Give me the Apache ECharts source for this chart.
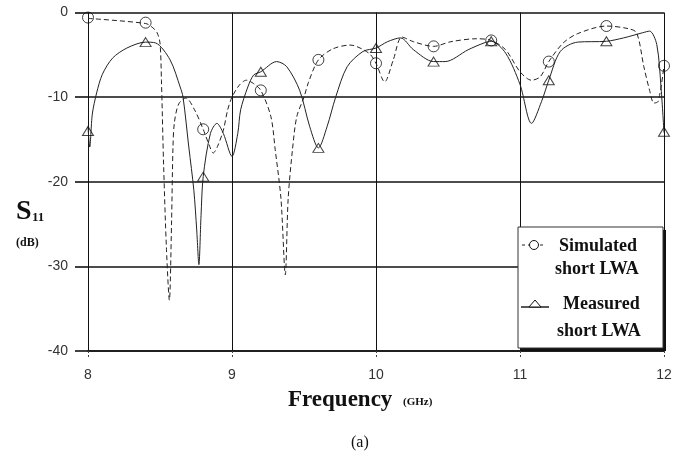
<!DOCTYPE html>
<html><head><meta charset="utf-8">
<script src="https://cdn.jsdelivr.net/npm/echarts@6/dist/echarts.min.js"></script>
<style>html,body{margin:0;padding:0;background:#fff}#c{width:679px;height:453px}</style>
</head><body><div id="c"></div>
<script>
// Frequency ticks (GHz) and S11 ticks (dB)
const xTicks = [8, 9, 10, 11, 12];
const yTicks = [0, -10, -20, -30, -40];

// Simulated short LWA curve: [GHz, dB]
const simFreq = [8.0, 8.4, 8.45, 8.48, 8.5, 8.51, 8.525, 8.545, 8.565, 8.58, 8.59, 8.6, 8.63, 8.68, 8.74, 8.8, 8.84, 8.87, 8.9, 8.94, 8.97, 9.0, 9.05, 9.1, 9.15, 9.2, 9.27, 9.3, 9.34, 9.37, 9.39, 9.42, 9.45, 9.5, 9.53, 9.6, 9.7, 9.82, 9.95, 10.0, 10.06, 10.12, 10.18, 10.26, 10.4, 10.52, 10.7, 10.8, 10.9, 11.0, 11.08, 11.14, 11.2, 11.3, 11.4, 11.6, 11.75, 11.81, 11.86, 11.9, 11.93, 11.96, 12.0];
const simDb   = [-0.7, -1.3, -1.8, -2.4, -3.6, -8, -18, -28, -34, -25, -16, -13, -10.8, -10.1, -11.5, -13.8, -15.6, -16.6, -15.8, -13.9, -11.5, -10.0, -8.6, -8.0, -8.4, -9.2, -12.3, -16.2, -22, -31, -22, -16.2, -12.3, -10.0, -8.3, -5.6, -4.3, -3.85, -4.8, -6.0, -8.2, -5.6, -2.9, -3.45, -4.0, -3.45, -3.1, -3.3, -4.4, -7.0, -8.0, -7.6, -5.8, -3.6, -2.5, -1.6, -1.9, -2.4, -6.4, -9.2, -10.7, -10.5, -6.3];

// Measured short LWA curve: [GHz, dB]
const measFreq = [8.0, 8.012, 8.03, 8.06, 8.1, 8.17, 8.27, 8.4, 8.47, 8.57, 8.64, 8.66, 8.7, 8.735, 8.755, 8.77, 8.785, 8.8, 8.85, 8.895, 8.94, 9.0, 9.04, 9.06, 9.11, 9.15, 9.2, 9.31, 9.38, 9.47, 9.54, 9.6, 9.66, 9.72, 9.8, 9.91, 10.0, 10.08, 10.17, 10.26, 10.4, 10.48, 10.64, 10.75, 10.8, 10.9, 11.0, 11.08, 11.15, 11.2, 11.28, 11.4, 11.6, 11.72, 11.85, 11.9, 11.95, 11.98, 12.0];
const measDb   = [-13.5, -15.9, -12, -9.5, -7.3, -5.4, -4.2, -3.5, -3.6, -5.6, -8.8, -10, -15.9, -21, -25.7, -29.8, -24, -19.4, -14.3, -13.1, -14.3, -17.0, -14.3, -11.5, -8.8, -7.4, -7.0, -5.8, -6.4, -9.2, -13.5, -16.0, -13.5, -10, -6.4, -4.6, -4.2, -3.45, -3.0, -4.4, -5.8, -5.8, -4.4, -3.6, -3.4, -4.8, -8.5, -13.1, -10.5, -8.0, -4.6, -3.5, -3.4, -3.0, -2.4, -2.2, -3.8, -9, -14.2];

// Marker points (every 0.4 GHz)
const markFreq = [8.0, 8.4, 8.8, 9.2, 9.6, 10.0, 10.4, 10.8, 11.2, 11.6, 12.0];
const simMarkDb  = [-0.6, -1.2, -13.8, -9.2, -5.6, -6.0, -4.0, -3.3, -5.8, -1.6, -6.3];
const measMarkDb = [-14.0, -3.5, -19.4, -7.0, -16.0, -4.2, -5.8, -3.4, -8.0, -3.4, -14.1];

const zip = (a, b) => a.map((v, i) => [v, b[i]]);

const chart = echarts.init(document.getElementById('c'));
const lab = {color: '#333', fontFamily: 'Liberation Sans, Arial, sans-serif', fontSize: 14};
const serif = '"Liberation Serif", "Times New Roman", serif';
chart.setOption({
  animation: false,
  grid: {left: 88, right: 15, top: 12.5, bottom: 102},
  xAxis: {
    type: 'value', min: xTicks[0], max: xTicks[xTicks.length - 1], interval: 1,
    axisLine: {onZero: false, lineStyle: {color: '#111', width: 1.6}},
    axisTick: {show: true, length: 7, lineStyle: {color: '#444', type: [2, 2]}},
    axisLabel: Object.assign({margin: 17}, lab),
    splitLine: {show: true, lineStyle: {color: '#111', width: 1}}
  },
  yAxis: {
    type: 'value', min: yTicks[yTicks.length - 1], max: yTicks[0], interval: 10,
    axisLine: {show: true, lineStyle: {color: '#111', width: 1}},
    axisTick: {show: true, length: 13, lineStyle: {color: '#111', width: 1.6}},
    axisLabel: Object.assign({margin: 20}, lab),
    splitLine: {show: true, lineStyle: {color: '#111', width: 1.6}}
  },
  series: [
    {type: 'line', data: zip(simFreq, simDb), smooth: 0.3, showSymbol: false,
     lineStyle: {color: '#222', width: 1, type: [5, 3]}, z: 3},
    {type: 'line', data: zip(measFreq, measDb), smooth: 0.3, showSymbol: false,
     lineStyle: {color: '#222', width: 1}, z: 3},
    {type: 'scatter', data: zip(markFreq, simMarkDb), symbol: 'circle', symbolSize: 11,
     itemStyle: {color: 'rgba(255,255,255,0)', borderColor: '#111', borderWidth: 1}, z: 4},
    {type: 'scatter', data: zip(markFreq, measMarkDb), symbol: 'triangle', symbolSize: [11, 9],
     itemStyle: {color: 'rgba(255,255,255,0)', borderColor: '#111', borderWidth: 1}, z: 4}
  ],
  graphic: [
    {type: 'text', style: {x: 16, y: 212, verticalAlign: 'middle', text: 'S', font: 'bold 28px ' + serif, fill: '#111'}},
    {type: 'text', style: {x: 32, y: 218, verticalAlign: 'middle', text: '11', font: 'bold 13px ' + serif, fill: '#111'}},
    {type: 'text', style: {x: 16, y: 243, verticalAlign: 'middle', text: '(dB)', font: 'bold 12px ' + serif, fill: '#111'}},
    {type: 'text', style: {x: 288, y: 400, verticalAlign: 'middle', text: 'Frequency', font: 'bold 23px ' + serif, fill: '#111'}},
    {type: 'text', style: {x: 403, y: 402, verticalAlign: 'middle', text: '(GHz)', font: 'bold 11px ' + serif, fill: '#111'}},
    {type: 'text', style: {x: 351, y: 443, verticalAlign: 'middle', text: '(a)', font: '16px ' + serif, fill: '#111'}},
    // legend box with shadow
    {type: 'rect', shape: {x: 521, y: 230, width: 145, height: 121}, style: {fill: '#111'}, z: 20},
    {type: 'rect', shape: {x: 518, y: 227, width: 145, height: 121}, style: {fill: '#fff', stroke: '#333', lineWidth: 1}, z: 21},
    {type: 'line', shape: {x1: 522, y1: 245, x2: 546, y2: 245}, style: {stroke: '#222', lineWidth: 1, lineDash: [3, 3]}, z: 22},
    {type: 'circle', shape: {cx: 534, cy: 245, r: 4.5}, style: {fill: '#fff', stroke: '#111', lineWidth: 1}, z: 23},
    {type: 'line', shape: {x1: 521, y1: 307, x2: 549, y2: 307}, style: {stroke: '#111', lineWidth: 1.4}, z: 22},
    {type: 'polygon', shape: {points: [[535, 300], [529, 307], [541, 307]]}, style: {fill: '#fff', stroke: '#111', lineWidth: 1}, z: 23},
    {type: 'text', z: 22, style: {x: 559, y: 246, verticalAlign: 'middle', text: 'Simulated', font: 'bold 18px ' + serif, fill: '#111'}},
    {type: 'text', z: 22, style: {x: 555, y: 269, verticalAlign: 'middle', text: 'short LWA', font: 'bold 18px ' + serif, fill: '#111'}},
    {type: 'text', z: 22, style: {x: 563, y: 304, verticalAlign: 'middle', text: 'Measured', font: 'bold 18px ' + serif, fill: '#111'}},
    {type: 'text', z: 22, style: {x: 557, y: 331, verticalAlign: 'middle', text: 'short LWA', font: 'bold 18px ' + serif, fill: '#111'}}
  ]
});
</script></body></html>
